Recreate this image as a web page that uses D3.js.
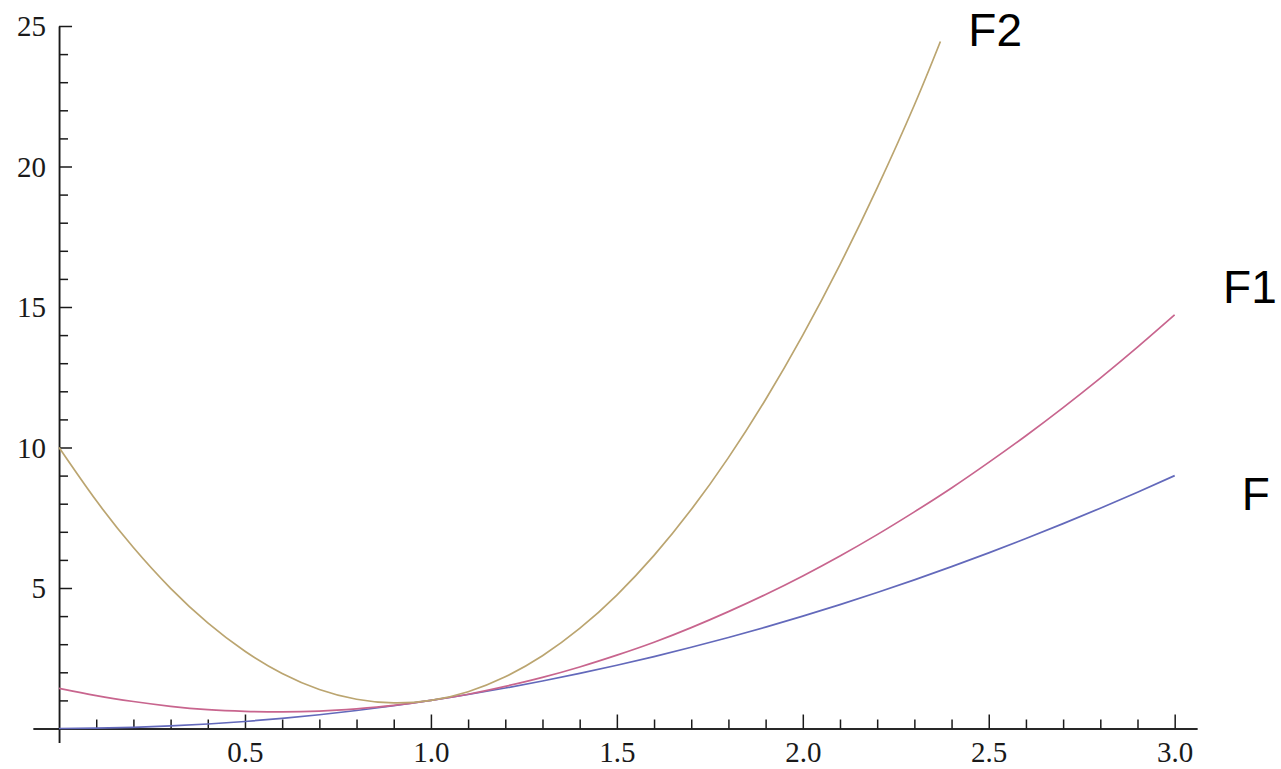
<!DOCTYPE html>
<html>
<head>
<meta charset="utf-8">
<script src="https://cdn.jsdelivr.net/npm/d3@7"></script>
<style>
  body { margin: 0; background: #fff; }
  .axis path, .axis line { stroke: #1a1a1a; stroke-width: 1.5px; }
  .axis text { font-family: "Liberation Serif", "Times New Roman", serif; font-size: 29px; fill: #1a1a1a; }
  .label { font-family: "Liberation Sans", Arial, sans-serif; font-size: 46px; fill: #000; }
</style>
</head>
<body>
<div id="chart"></div>
<script>
var width = 1281, height = 769

// x samples (read at 0.1 steps)
var xs = [0, 0.1, 0.2, 0.3, 0.4, 0.5, 0.6, 0.7, 0.8, 0.9, 1.0,
          1.1, 1.2, 1.3, 1.4, 1.5, 1.6, 1.7, 1.8, 1.9, 2.0,
          2.1, 2.2, 2.3, 2.4, 2.5, 2.6, 2.7, 2.8, 2.9, 3.0]
// F (blue)
var fVals = [0, 0.01, 0.04, 0.09, 0.16, 0.25, 0.36, 0.49, 0.64, 0.81, 1.0,
             1.21, 1.44, 1.69, 1.96, 2.25, 2.56, 2.89, 3.24, 3.61, 4.0,
             4.41, 4.84, 5.29, 5.76, 6.25, 6.76, 7.29, 7.84, 8.41, 9.0]
// F1 (pink)
var f1Vals = [1.43, 1.17, 0.96, 0.79, 0.67, 0.61, 0.59, 0.62, 0.70, 0.82, 1.0,
              1.22, 1.50, 1.82, 2.19, 2.61, 3.07, 3.59, 4.16, 4.77, 5.43,
              6.14, 6.90, 7.71, 8.56, 9.47, 10.42, 11.42, 12.47, 13.57, 14.72]
// F2 (tan) – stops near the top of the plot
var f2Xs = [0, 0.1, 0.2, 0.3, 0.4, 0.5, 0.6, 0.7, 0.8, 0.9, 1.0,
            1.1, 1.2, 1.3, 1.4, 1.5, 1.6, 1.7, 1.8, 1.9, 2.0,
            2.1, 2.2, 2.3, 2.37]
var f2Vals = [10.0, 8.11, 6.44, 4.99, 3.76, 2.75, 1.96, 1.39, 1.04, 0.91, 1.0,
              1.31, 1.84, 2.59, 3.56, 4.75, 6.16, 7.79, 9.64, 11.71, 14.0,
              16.51, 19.24, 22.19, 24.45]

var xMajor = [0.5, 1.0, 1.5, 2.0, 2.5, 3.0]
var yMajor = [5, 10, 15, 20, 25]

var series = [
  {name: "F",  xs: xs,   ys: fVals,  color: "#6369bb", label: [3.18, 7.78]},
  {name: "F1", xs: xs,   ys: f1Vals, color: "#c8658e", label: [3.13, 15.14]},
  {name: "F2", xs: f2Xs, ys: f2Vals, color: "#bba570", label: [2.445, 24.3]}
]

var svg = d3.select("#chart")
    .append("svg")
    .attr("width", width)
    .attr("height", height)

var x = d3.scaleLinear().domain([-0.07, 3.06]).range([33, 1197])
var y = d3.scaleLinear().domain([-0.5, 25]).range([742.55, 26])

// minor ticks (every 0.1 on x, every 1 on y)
var xMinor = d3.range(1, 31).map(function(i) { return i / 10 })
    .filter(function(v) { return Math.round(v * 10) % 5 != 0 })
var yMinor = d3.range(1, 25).filter(function(v) { return v % 5 != 0 })

// x axis
svg.append("g")
    .attr("class", "axis")
    .attr("transform", "translate(0," + y(0) + ")")
    .call(d3.axisBottom(x).tickValues(xMinor).tickSize(-9).tickSizeOuter(0).tickFormat(""))
var gx = svg.append("g")
    .attr("class", "axis")
    .attr("transform", "translate(0," + y(0) + ")")
    .call(d3.axisBottom(x).tickValues(xMajor).tickSize(-14).tickSizeOuter(0).tickFormat(d3.format(".1f")))
gx.selectAll("text").attr("y", 33).attr("dy", null)

// y axis
svg.append("g")
    .attr("class", "axis")
    .attr("transform", "translate(" + x(0) + ",0)")
    .call(d3.axisLeft(y).tickValues(yMinor).tickSize(-9).tickSizeOuter(0).tickFormat(""))
var gy = svg.append("g")
    .attr("class", "axis")
    .attr("transform", "translate(" + x(0) + ",0)")
    .call(d3.axisLeft(y).tickValues(yMajor).tickSize(-13).tickSizeOuter(0).tickFormat(d3.format("d")))
gy.selectAll("text").attr("x", -13).attr("dy", "0.33em")

// curves
var line = d3.line()
    .x(function(d) { return x(d[0]) })
    .y(function(d) { return y(d[1]) })
    .curve(d3.curveNatural)

svg.selectAll(".curve")
    .data(series)
    .enter().append("path")
    .attr("class", "curve")
    .attr("fill", "none")
    .attr("stroke", function(d) { return d.color })
    .attr("stroke-width", 1.7)
    .attr("d", function(d) { return line(d.xs.map(function(v, i) { return [v, d.ys[i]] })) })

// curve names
svg.selectAll(".label")
    .data(series)
    .enter().append("text")
    .attr("class", "label")
    .attr("x", function(d) { return x(d.label[0]) })
    .attr("y", function(d) { return y(d.label[1]) })
    .text(function(d) { return d.name })
</script>
</body>
</html>
